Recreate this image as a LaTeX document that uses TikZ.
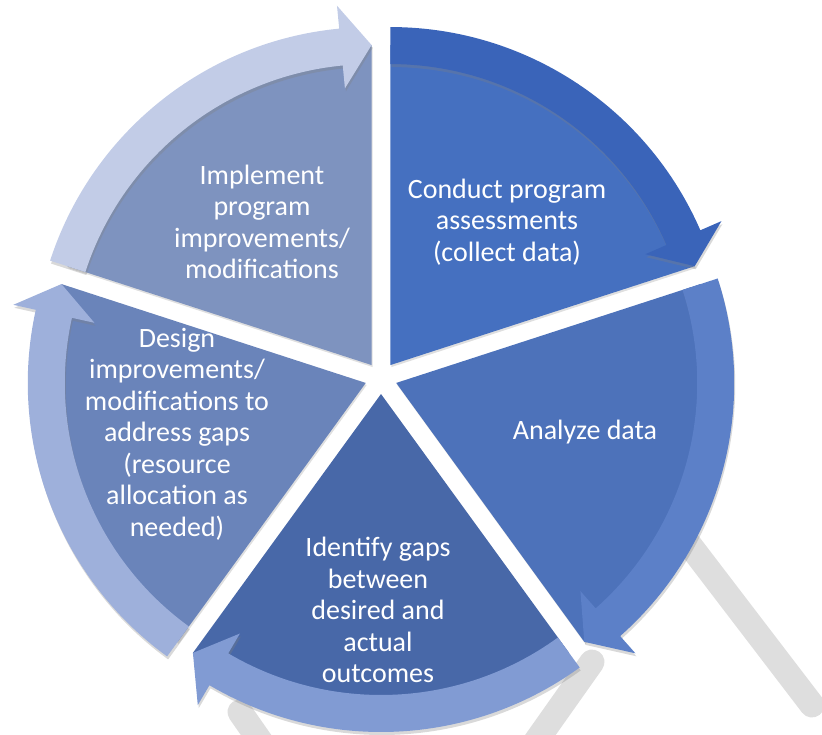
\documentclass[tikz,border=0pt]{standalone}
\usepackage{fontspec}
\setmainfont{Carlito}
\usetikzlibrary{shadows}
\definecolor{fillA}{HTML}{4570C0}
\definecolor{bandA}{HTML}{3A64B9}
\definecolor{fillB}{HTML}{4D72BA}
\definecolor{bandB}{HTML}{5C80C8}
\definecolor{fillC}{HTML}{4868A8}
\definecolor{bandC}{HTML}{819BD3}
\definecolor{fillD}{HTML}{6A84BA}
\definecolor{bandD}{HTML}{9EB0DB}
\definecolor{fillE}{HTML}{7E93BF}
\definecolor{bandE}{HTML}{C2CCE7}
\definecolor{mark}{HTML}{DEDEDE}
\tikzstyle{slice} = [drop shadow={opacity=.25,shadow xshift=1pt,shadow yshift=-2pt}]
\tikzstyle{band} = [drop shadow={opacity=.3,shadow xshift=1pt,shadow yshift=-3pt}]
\tikzstyle{label} = [text=white,align=center,font=\fontsize{28}{31.5}\selectfont]
\tikzstyle{ghost} = [line width=25pt,line cap=round,color=mark]
% radii: slice, band inner/outer, barbs, tip
\def \rs {320}
\def \ri {301}
\def \ro {338}
\def \ra {278}
\def \rb {361}
\def \rt {320}
\def \hd {5.5}

\begin{document}
\begin{tikzpicture}[x=1pt,y=1pt]
  \clip (-381,-356) rectangle (441,378);
  % faint strokes behind the wheel
  \draw[ghost] (259,-102) -- (431,-327);
  \draw[ghost] (211,-284) -- (129,-400);
  \draw[ghost] (-141,-334) -- (-81,-420);

  % conduct
  \begin{scope}[shift={(54:16)}]
    \fill[fillA,slice] (0,0) -- (90:\rs) arc[start angle=90,end angle=18,radius=\rs] -- cycle;
    \fill[bandA,band] (90:\ri) -- (90:\ro) arc[start angle=90,end angle=18+\hd,radius=\ro]
      -- (18+\hd:\rb) -- (18:\rt) -- (18+\hd:\ra) -- (18+\hd:\ri)
      arc[start angle=18+\hd,end angle=90,radius=\ri] -- cycle;
  \end{scope}
  % analyze
  \begin{scope}[shift={(-18:16)}]
    \fill[fillB,slice] (0,0) -- (18:\rs) arc[start angle=18,end angle=-54,radius=\rs] -- cycle;
    \fill[bandB,band] (18:\ri) -- (18:\ro) arc[start angle=18,end angle=-54+\hd,radius=\ro]
      -- (-54+\hd:\rb) -- (-54:\rt) -- (-54+\hd:\ra) -- (-54+\hd:\ri)
      arc[start angle=-54+\hd,end angle=18,radius=\ri] -- cycle;
  \end{scope}
  % identify
  \begin{scope}[shift={(-90:16)}]
    \fill[fillC,slice] (0,0) -- (-54:\rs) arc[start angle=-54,end angle=-126,radius=\rs] -- cycle;
    \fill[bandC,band] (-54:\ri) -- (-54:\ro) arc[start angle=-54,end angle=-126+\hd,radius=\ro]
      -- (-126+\hd:\rb) -- (-126:\rt) -- (-126+\hd:\ra) -- (-126+\hd:\ri)
      arc[start angle=-126+\hd,end angle=-54,radius=\ri] -- cycle;
  \end{scope}
  % design
  \begin{scope}[shift={(-162:16)}]
    \fill[fillD,slice] (0,0) -- (-126:\rs) arc[start angle=-126,end angle=-198,radius=\rs] -- cycle;
    \fill[bandD,band] (-126:\ri) -- (-126:\ro) arc[start angle=-126,end angle=-198+\hd,radius=\ro]
      -- (-198+\hd:\rb) -- (-198:\rt) -- (-198+\hd:\ra) -- (-198+\hd:\ri)
      arc[start angle=-198+\hd,end angle=-126,radius=\ri] -- cycle;
  \end{scope}
  % implement
  \begin{scope}[shift={(-234:16)}]
    \fill[fillE,slice] (0,0) -- (-198:\rs) arc[start angle=-198,end angle=-270,radius=\rs] -- cycle;
    \fill[bandE,band] (-198:\ri) -- (-198:\ro) arc[start angle=-198,end angle=-270+\hd,radius=\ro]
      -- (-270+\hd:\rb) -- (-270:\rt) -- (-270+\hd:\ra) -- (-270+\hd:\ri)
      arc[start angle=-270+\hd,end angle=-198,radius=\ri] -- cycle;
  \end{scope}

  \node[label] (conduct) at (126,156) {Conduct program\\assessments\\(collect data)};
  \node[label] (analyze) at (204,-54) {Analyze data};
  \node[label] (identify) at (-3,-232) {Identify gaps\\between\\desired and\\actual\\outcomes};
  \node[label] (design) at (-204,-56) {Design\\improvements/\\modifications to\\address gaps\\(resource\\allocation as\\needed)};
  \node[label] (implement) at (-119,156) {Implement\\program\\improvements/\\modifications};
\end{tikzpicture}
\end{document}
